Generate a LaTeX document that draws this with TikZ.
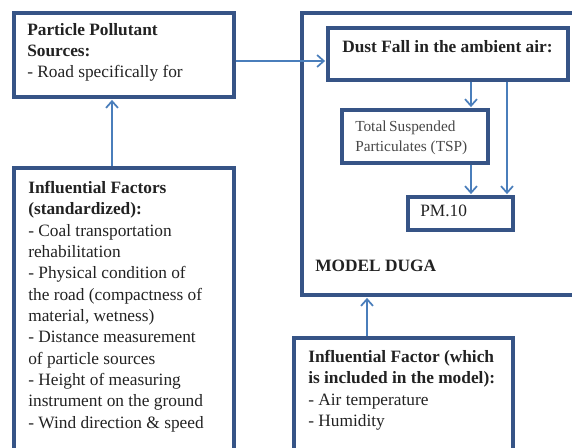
\documentclass[tikz,border=0pt]{standalone}
\usepackage{fontspec}
\setmainfont{Liberation Serif}
\usetikzlibrary{
  arrows.meta,
  positioning,
  fit
}
\definecolor{boxblue}{HTML}{365486}
\definecolor{flowblue}{HTML}{4A7EBB}
\definecolor{inkgray}{HTML}{222222}
\tikzset{
  panel/.style={
    draw=boxblue, rectangle, line width=2.4pt, inner sep=0pt
  },
  panel text/.style={
    anchor=north west, inner sep=0pt, align=left,
    text=inkgray, font=\fontsize{13}{16}\selectfont
  },
  small text/.style={
    panel text, text=black!72, font=\fontsize{11.5}{15}\selectfont
  },
  flow/.style={
    -{Straight Barb[length=5pt,width=9pt]}, draw=flowblue, line width=1.3pt,
    shorten >=1pt
  },
}

\begin{document}
\begin{tikzpicture}[x=0.75pt, y=-0.75pt]
  \useasboundingbox (0,0) rectangle (572,447);
  \clip (0,0) rectangle (572,447);

  % Boxes
  \node[panel, fit={(14,13) (234,97)}] (src) {};
  \node[panel, fit={(14,168) (234,470)}] (flt) {};
  \node[panel, fit={(302,13) (600,295)}] (duga) {};
  \node[panel, fit={(328,28) (568,80)}] (dust) {};
  \node[panel, fit={(342,110) (488,163)}] (tsp) {};
  \node[panel, fit={(408,197) (513,230)}] (pm) {};
  \node[panel, fit={(294,338) (513,470)}] (inc) {};

  % Texts
  \node[panel text] (srctxt) at (27,23)
    {\textbf{Particle Pollutant}\\\textbf{Sources:}\\- Road specifically for};
  \node[panel text] (flttxt) at (28,181)
    {\textbf{Influential Factors}\\\textbf{(standardized):}\\
     - Coal transportation\\rehabilitation\\
     - Physical condition of\\the road (compactness of\\material, wetness)\\
     - Distance measurement\\of particle sources\\
     - Height of measuring\\instrument on the ground\\
     - Wind direction \& speed};
  \node[panel text] (dusttxt) at (342,40) {\textbf{Dust Fall in the ambient air:}};
  \node[small text] (tsptxt) at (355,121) {Total\,Suspended\\Particulates (TSP)};
  \node[panel text] (pmtxt) at (420,205) {PM.10};
  \node[panel text] (dugatxt) at (315,260) {\textbf{MODEL DUGA}};
  \node[panel text] (inctxt) at (308,350)
    {\textbf{Influential Factor (which}\\\textbf{is included in the model):}\\
     - Air temperature\\- Humidity};

  % Connectors
  \coordinate (upx) at (112,0);
  \coordinate (mx) at (367,0);
  \coordinate (lx) at (471,0);
  \coordinate (rx) at (507,0);
  \draw[flow] (flt.north -| upx) -- (src.south -| upx);
  \draw[flow] ([yshift=-4.5pt]src.east) -- ([yshift=-4.5pt]src.east -| dust.west);
  \draw[flow] (dust.south -| lx) -- (tsp.north -| lx);
  \draw[flow] (dust.south -| rx) -- (pm.north -| rx);
  \draw[flow] (tsp.south -| lx) -- (pm.north -| lx);
  \draw[flow] (inc.north -| mx) -- (duga.south -| mx);

\end{tikzpicture}
\end{document}
